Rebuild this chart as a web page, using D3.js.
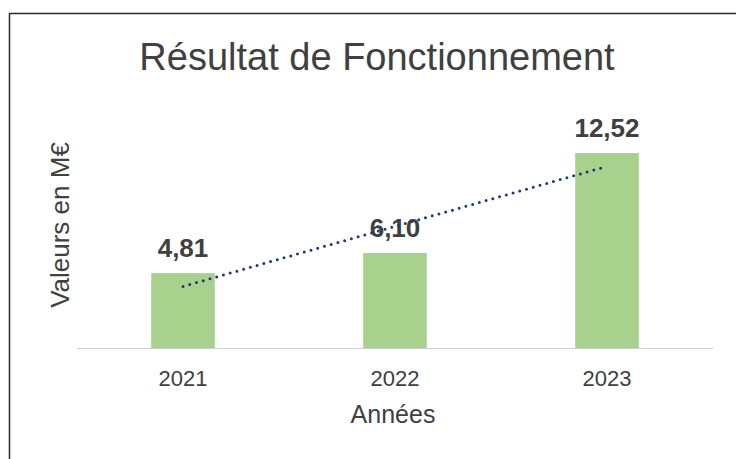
<!DOCTYPE html>
<html>
<head>
<meta charset="utf-8">
<script src="https://cdn.jsdelivr.net/npm/d3@7"></script>
<style>
  body { margin: 0; background: #fff; }
  svg { display: block; font-family: 'Liberation Sans', Arial, sans-serif; }
</style>
</head>
<body>
<div id="chart"></div>
<script>
var years = ['2021', '2022', '2023']
var values = [4.81, 6.10, 12.52]
var valueLabels = ['4,81', '6,10', '12,52']

var width = 736
var height = 459

var svg = d3.select('#chart').append('svg')
      .attr('width', width)
      .attr('height', height)

// chart frame (only top and left edges are inside the picture)
svg.append('rect')
      .attr('x', 9.5)
      .attr('y', 13.5)
      .attr('width', 760)
      .attr('height', 480)
      .attr('fill', 'none')
      .attr('stroke', '#2b2b2b')
      .attr('stroke-width', 1.5)

svg.append('text')
      .attr('x', 377)
      .attr('y', 70)
      .attr('text-anchor', 'middle')
      .attr('font-size', 38)
      .attr('fill', '#404040')
      .text('Résultat de Fonctionnement')

var xScale = d3.scaleBand().domain(years).range([77, 713]).paddingInner(0.7).paddingOuter(0.35)
var yScale = d3.scaleLinear().domain([0, 14]).range([348, 130])

svg.append('g')
      .selectAll('rect')
      .data(values)
      .join('rect')
      .attr('x', function (d, i) { return xScale(years[i]) })
      .attr('y', function (d) { return yScale(d) })
      .attr('width', xScale.bandwidth())
      .attr('height', function (d) { return yScale(0) - yScale(d) })
      .attr('fill', '#a9d18e')

var xAxis = d3.axisBottom().scale(xScale).tickSize(0).tickPadding(22)
var gx = svg.append('g')
      .attr('transform', 'translate(0,' + yScale(0) + ')')
      .call(xAxis)
gx.select('.domain').attr('stroke', '#d0d0d0').attr('stroke-width', 1)
gx.selectAll('text')
      .attr('font-size', 22)
      .attr('fill', '#404040')
      .attr('font-family', "'Liberation Sans', Arial, sans-serif")

// value labels
svg.append('g')
      .selectAll('text')
      .data(values)
      .join('text')
      .attr('x', function (d, i) { return xScale(years[i]) + xScale.bandwidth() / 2 })
      .attr('y', function (d) { return yScale(d) - 16 })
      .attr('text-anchor', 'middle')
      .attr('font-size', 26)
      .attr('font-weight', 'bold')
      .attr('fill', '#404040')
      .text(function (d, i) { return valueLabels[i] })

// linear trend line
var n = values.length
var meanX = d3.mean(values, function (d, i) { return i })
var meanY = d3.mean(values)
var slope = d3.sum(values, function (d, i) { return (i - meanX) * (d - meanY) }) /
      d3.sum(values, function (d, i) { return (i - meanX) * (i - meanX) })
var trend = [0, n - 1].map(function (i) { return [i, meanY + slope * (i - meanX)] })

svg.append('path')
      .datum(trend)
      .attr('d', d3.line()
        .x(function (d) { return xScale(years[d[0]]) + xScale.bandwidth() / 2 })
        .y(function (d) { return yScale(d[1]) }))
      .attr('fill', 'none')
      .attr('stroke', '#1f3a6e')
      .attr('stroke-width', 3)
      .attr('stroke-linecap', 'round')
      .attr('stroke-dasharray', '0 7')

svg.append('text')
      .attr('transform', 'translate(69,225) rotate(-90)')
      .attr('text-anchor', 'middle')
      .attr('font-size', 26)
      .attr('fill', '#404040')
      .text('Valeurs en M€')

svg.append('text')
      .attr('x', 393)
      .attr('y', 423)
      .attr('text-anchor', 'middle')
      .attr('font-size', 25)
      .attr('fill', '#404040')
      .text('Années')
</script>
</body>
</html>
